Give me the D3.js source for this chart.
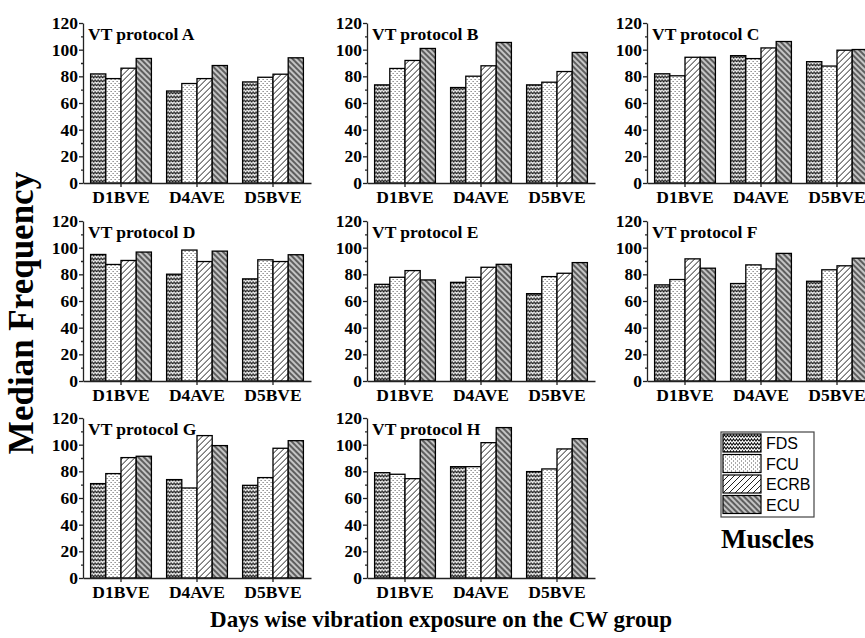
<!DOCTYPE html>
<html>
<head>
<meta charset="utf-8">
<script src="https://cdn.jsdelivr.net/npm/d3@7"></script>
<style>
  body { margin: 0; background: #fff; }
  .axis path, .axis line { stroke: #222; stroke-width: 1.3px; }
</style>
</head>
<body>
<div id="chart"></div>
<script>
  var days = ["D1BVE", "D4AVE", "D5BVE"];
  var muscles = ["FDS", "FCU", "ECRB", "ECU"];
  var yTicks = [0, 20, 40, 60, 80, 100, 120];
  var yMinorTicks = [10, 30, 50, 70, 90, 110];

  // median frequency per day, order FDS, FCU, ECRB, ECU
  var protocolA = [[81.8, 78.3, 86.1, 93.4], [69.0, 74.6, 78.3, 88.1], [75.8, 79.3, 81.6, 93.9]];
  var protocolB = [[73.6, 85.9, 91.9, 100.9], [71.6, 80.1, 87.9, 105.4], [73.6, 75.6, 83.6, 97.9]];
  var protocolC = [[81.9, 80.4, 94.3, 94.3], [95.5, 93.3, 101.3, 106.1], [91.0, 87.7, 99.6, 100.1]];
  var protocolD = [[94.9, 87.4, 90.4, 96.7], [80.1, 98.2, 89.6, 97.4], [76.6, 90.9, 89.6, 94.7]];
  var protocolE = [[72.5, 77.8, 82.8, 75.8], [74.0, 77.8, 85.3, 87.5], [65.5, 78.3, 80.8, 88.8]];
  var protocolF = [[72.1, 76.1, 91.6, 84.6], [73.1, 87.1, 84.1, 95.7], [74.8, 83.4, 86.4, 92.1]];
  var protocolG = [[70.8, 78.3, 90.3, 91.3], [73.8, 67.5, 106.8, 99.3], [69.5, 75.3, 97.3, 103.0]];
  var protocolH = [[79.0, 77.8, 74.5, 103.8], [83.5, 83.5, 101.5, 112.8], [79.8, 81.8, 96.8, 104.5]];

  var panels = [
    {name: "VT protocol A", values: protocolA, col: 0, row: 0},
    {name: "VT protocol B", values: protocolB, col: 1, row: 0},
    {name: "VT protocol C", values: protocolC, col: 2, row: 0},
    {name: "VT protocol D", values: protocolD, col: 0, row: 1},
    {name: "VT protocol E", values: protocolE, col: 1, row: 1},
    {name: "VT protocol F", values: protocolF, col: 2, row: 1},
    {name: "VT protocol G", values: protocolG, col: 0, row: 2},
    {name: "VT protocol H", values: protocolH, col: 1, row: 2}
  ];

  var W = 865, H = 638;
  var colX = [83, 367, 647];
  var rowY = [23, 221, 418];
  var pw = 228, ph = 160;
  var serif = "Liberation Serif, Times New Roman, serif";

  var svg = d3.select("#chart").append("svg")
      .attr("width", W)
      .attr("height", H);

  // fill patterns
  var defs = svg.append("defs");
  function pattern(id, w, h, bg) {
    var p = defs.append("pattern")
      .attr("id", id)
      .attr("patternUnits", "userSpaceOnUse")
      .attr("width", w).attr("height", h);
    p.append("rect").attr("width", w).attr("height", h).attr("fill", bg);
    return p;
  }
  pattern("pat-FDS", 6, 4, "#fff")
    .append("path")
      .attr("d", "M0,3.2 L1.5,0.8 L3,3.2 L4.5,0.8 L6,3.2")
      .attr("fill", "none").attr("stroke", "#111").attr("stroke-width", 1.1);
  var dots = pattern("pat-FCU", 4, 4, "#fff");
  dots.append("rect").attr("x", 0).attr("y", 0).attr("width", 1).attr("height", 1).attr("fill", "#555");
  dots.append("rect").attr("x", 2).attr("y", 2).attr("width", 1).attr("height", 1).attr("fill", "#555");
  pattern("pat-ECRB", 6, 6, "#fff")
    .append("path")
      .attr("d", "M0,6 L6,0 M-1,1 L1,-1 M5,7 L7,5")
      .attr("fill", "none").attr("stroke", "#222").attr("stroke-width", 1);
  pattern("pat-ECU", 4, 4, "#c4c4c4")
    .attr("patternTransform", "rotate(45)")
    .append("path")
      .attr("d", "M0,3 L1,1 L2,3 L3,1 L4,3")
      .attr("fill", "none").attr("stroke", "#444").attr("stroke-width", 1);

  var y = d3.scaleLinear().domain([0, 120]).range([ph, 0]);
  var x0 = d3.scaleBand().domain(days).range([0, pw]).paddingInner(0.2).paddingOuter(0.1);
  var x1 = d3.scaleBand().domain(muscles).range([0, x0.bandwidth()]);

  function styleTicks(sel) {
    sel.selectAll("text")
      .attr("font-family", serif)
      .attr("font-weight", "bold")
      .attr("font-size", 17.5)
      .attr("fill", "#000");
  }

  panels.forEach(function(p) {
    var g = svg.append("g")
      .attr("transform", "translate(" + colX[p.col] + "," + rowY[p.row] + ")");

    var group = g.selectAll("g.day")
      .data(p.values)
      .enter().append("g")
        .attr("class", "day")
        .attr("transform", function(d, i) { return "translate(" + x0(days[i]) + ",0)"; });

    group.selectAll("rect")
      .data(function(d) { return d; })
      .enter().append("rect")
        .attr("x", function(d, i) { return x1(muscles[i]); })
        .attr("y", function(d) { return y(d); })
        .attr("width", x1.bandwidth())
        .attr("height", function(d) { return ph - y(d); })
        .attr("fill", function(d, i) { return "url(#pat-" + muscles[i] + ")"; })
        .attr("stroke", "#000")
        .attr("stroke-width", 1.3);

    g.append("g")
      .attr("class", "axis")
      .attr("transform", "translate(0," + ph + ")")
      .call(d3.axisBottom(x0).tickSize(4).tickSizeOuter(0).tickPadding(4))
      .call(styleTicks);

    g.append("g")
      .attr("class", "axis")
      .call(d3.axisLeft(y).tickValues(yTicks).tickSize(4).tickSizeOuter(0).tickPadding(1))
      .call(styleTicks);

    g.append("g")
      .attr("class", "axis")
      .call(d3.axisLeft(y).tickValues(yMinorTicks).tickSize(2).tickSizeOuter(0).tickFormat(""))
      .select(".domain").remove();

    g.append("text")
      .attr("x", 5)
      .attr("y", 17)
      .attr("font-family", serif)
      .attr("font-weight", "bold")
      .attr("font-size", 17.5)
      .text(p.name);
  });

  // legend
  var legend = svg.append("g").attr("transform", "translate(721,432)");
  legend.append("rect")
    .attr("width", 93).attr("height", 85)
    .attr("fill", "#fff").attr("stroke", "#444").attr("stroke-width", 1.2);
  var item = legend.selectAll("g.item")
    .data(muscles)
    .enter().append("g")
      .attr("class", "item")
      .attr("transform", function(d, i) { return "translate(2," + (2 + i * 20.5) + ")"; });
  item.append("rect")
    .attr("width", 38).attr("height", 18)
    .attr("fill", function(d) { return "url(#pat-" + d + ")"; })
    .attr("stroke", "#000").attr("stroke-width", 1.2);
  item.append("text")
    .attr("x", 43).attr("y", 15)
    .attr("font-family", "Liberation Sans, Arial, sans-serif")
    .attr("font-size", 16)
    .text(function(d) { return d; });

  svg.append("text")
    .attr("x", 721).attr("y", 548)
    .attr("font-family", serif).attr("font-weight", "bold").attr("font-size", 27)
    .text("Muscles");

  svg.append("text")
    .attr("transform", "translate(33,313) rotate(-90)")
    .attr("text-anchor", "middle")
    .attr("font-family", serif).attr("font-weight", "bold").attr("font-size", 35)
    .text("Median Frequency");

  svg.append("text")
    .attr("x", 441).attr("y", 627)
    .attr("text-anchor", "middle")
    .attr("font-family", serif).attr("font-weight", "bold").attr("font-size", 23)
    .text("Days wise vibration exposure on the CW group");
</script>
</body>
</html>
